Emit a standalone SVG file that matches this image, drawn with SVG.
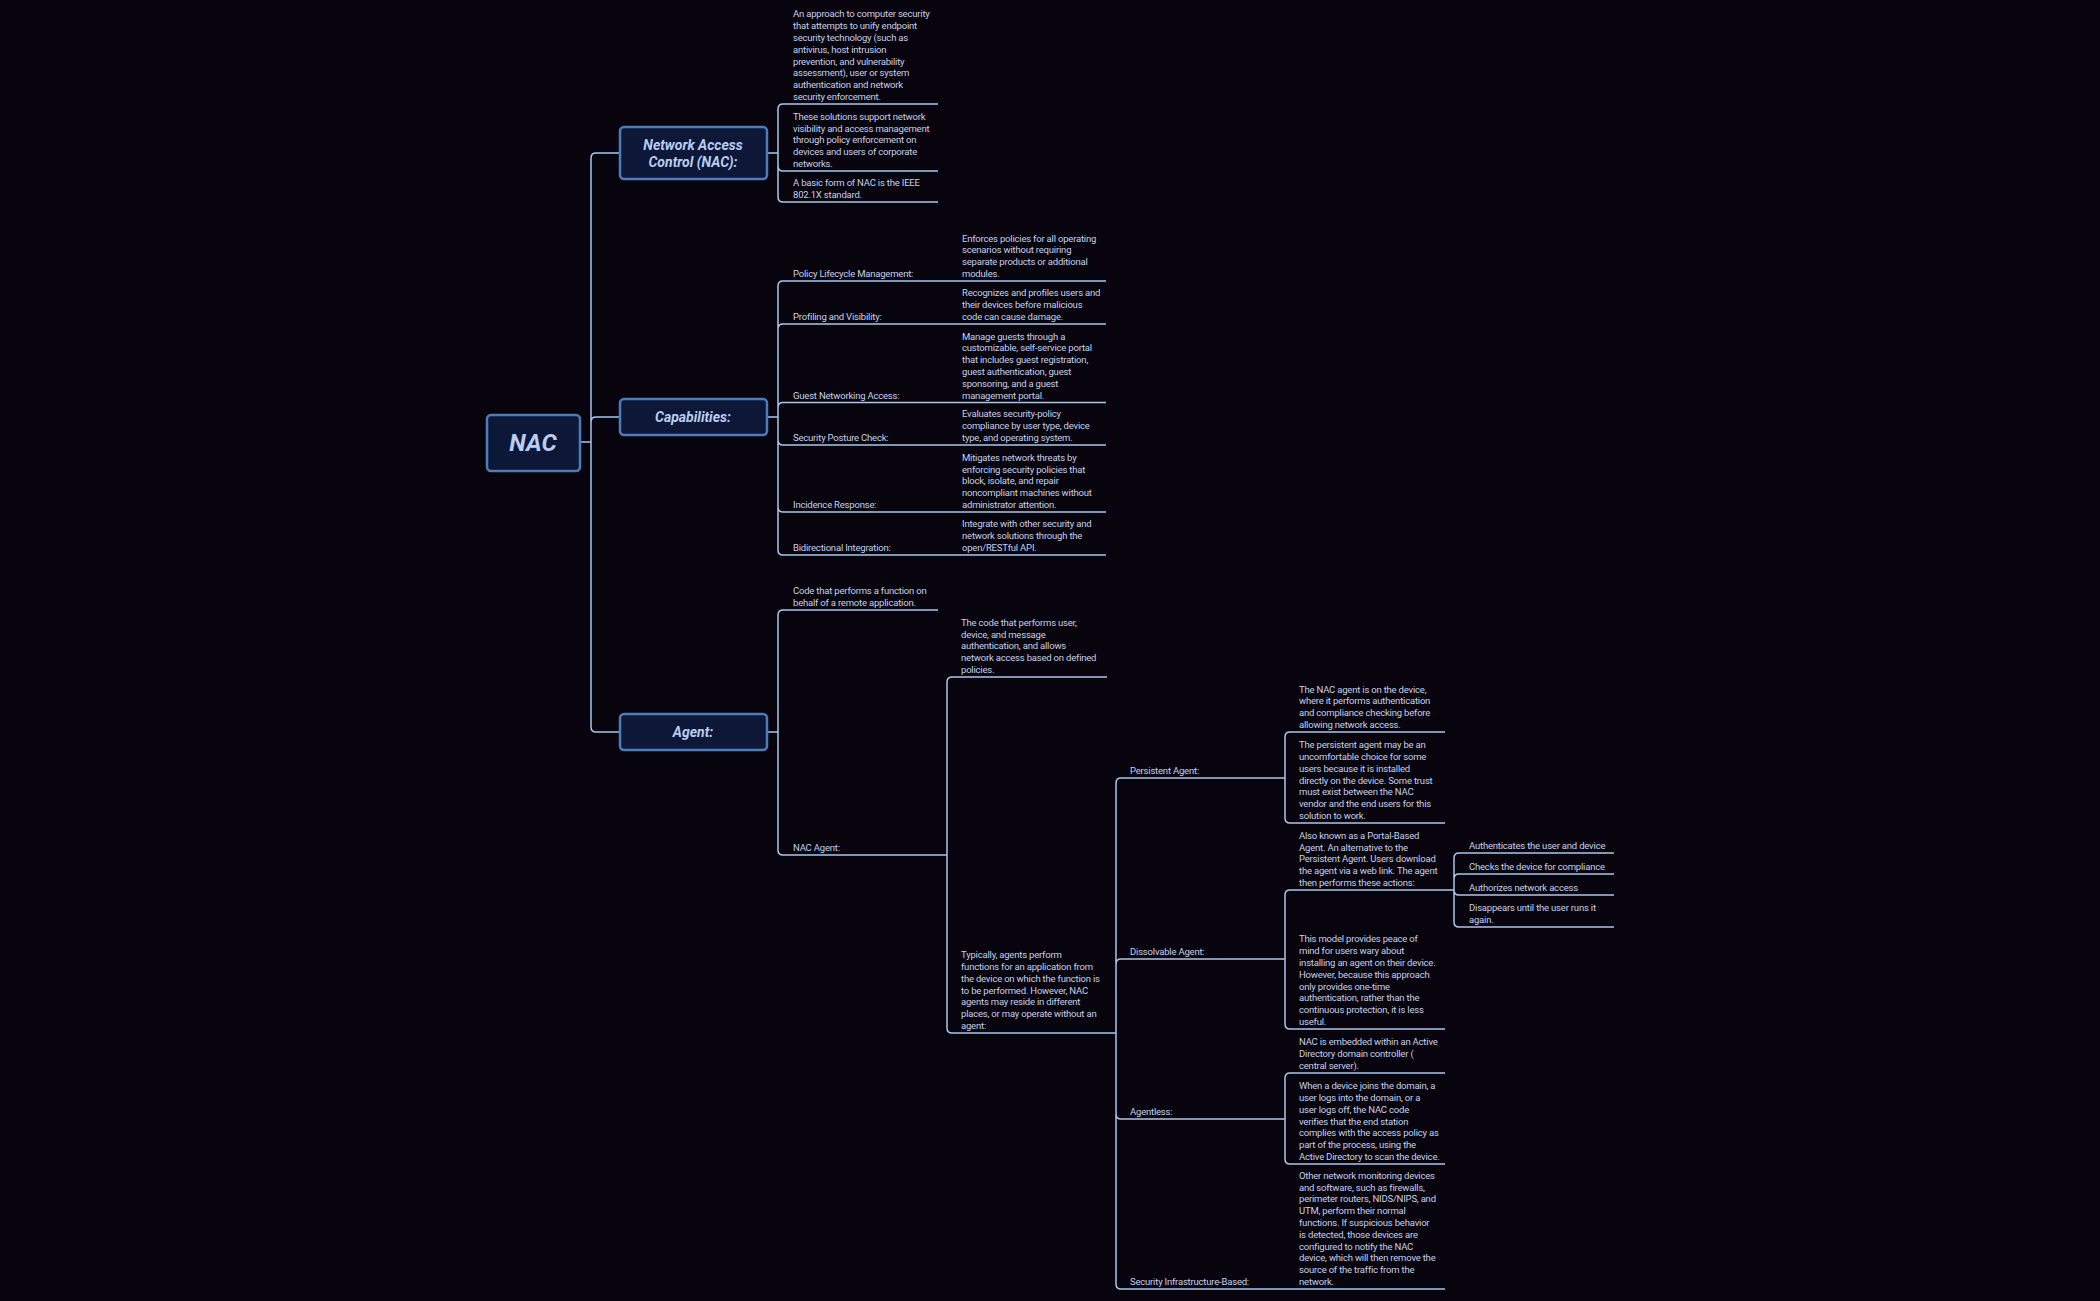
<svg xmlns="http://www.w3.org/2000/svg" width="2100" height="1301" viewBox="0 0 2100 1301">
<style>
.t{font-family:Roboto,"Liberation Sans",sans-serif;font-size:9.5px;letter-spacing:-0.2px;fill:#c6d2ec}
.b{fill:#0d1838;stroke:#4d7cb8;stroke-width:2.5}
.bt{font-family:Roboto,"Liberation Sans",sans-serif;font-weight:bold;font-style:italic;fill:#b9cdf0;text-anchor:middle}
#connectors path{fill:none;stroke:#a9c6ec;stroke-width:1.5}
</style>
<rect width="2100" height="1301" fill="#07040d"/>
<g id="connectors">
<path d="M580,442H591M591,442V158Q591,153 596,153H620M591,442V422Q591,417 596,417H620M591,442V727Q591,732 596,732H620"/>
<path d="M767,153H778M778,153V109Q778,104 783,104H938M778,153V166Q778,171 783,171H938M778,153V197Q778,202 783,202H938"/>
<path d="M767,417H778M778,417V286Q778,281 783,281H1106M778,417V329Q778,324 783,324H1106M778,417V407.5Q778,402.5 783,402.5H1106M778,417V440Q778,445 783,445H1106M778,417V507Q778,512 783,512H1106M778,417V550Q778,555 783,555H1106"/>
<path d="M767,732H778M778,732V615Q778,610 783,610H938M778,732V850Q778,855 783,855H947"/>
<path d="M947,855V682Q947,677 952,677H1107M947,855V1028Q947,1033 952,1033H1116"/>
<path d="M1116,1033V783Q1116,778 1121,778H1285M1116,1033V964Q1116,959 1121,959H1285M1116,1033V1114Q1116,1119 1121,1119H1285M1116,1033V1284Q1116,1289 1121,1289H1285"/>
<path d="M1285,778V737Q1285,732 1290,732H1445M1285,778V818Q1285,823 1290,823H1445"/>
<path d="M1285,959V895Q1285,890 1290,890H1445M1285,959V1024Q1285,1029 1290,1029H1445"/>
<path d="M1285,1119V1078Q1285,1073 1290,1073H1445M1285,1119V1159Q1285,1164 1290,1164H1445"/>
<path d="M1285,1289H1445"/>
<path d="M1445,890H1454M1454,890V858Q1454,853 1459,853H1614M1454,890V879Q1454,874 1459,874H1614M1454,890Q1454,895 1459,895H1614M1454,890V922Q1454,927 1459,927H1614"/>
</g>
<g id="root"><rect class="b" x="487" y="415" width="93" height="56" rx="4"/><text class="bt" x="533" y="451" font-size="24">NAC</text></g>
<g id="nac"><rect class="b" x="620" y="127" width="147" height="52" rx="4"/><text class="bt" x="693" y="150" font-size="14">Network Access</text><text class="bt" x="693" y="167" font-size="14">Control (NAC):</text></g>
<g id="cap"><rect class="b" x="620" y="399" width="147" height="36" rx="4"/><text class="bt" x="693" y="422" font-size="14">Capabilities:</text></g>
<g id="agent"><rect class="b" x="620" y="714" width="147" height="36" rx="4"/><text class="bt" x="693" y="737" font-size="14">Agent:</text></g>
<g id="nac-leaves" class="t">
<text class="t" x="793" y="17.4"><tspan x="793">An approach to computer security</tspan><tspan x="793" dy="11.8">that attempts to unify endpoint</tspan><tspan x="793" dy="11.8">security technology (such as</tspan><tspan x="793" dy="11.8">antivirus, host intrusion</tspan><tspan x="793" dy="11.8">prevention, and vulnerability</tspan><tspan x="793" dy="11.8">assessment), user or system</tspan><tspan x="793" dy="11.8">authentication and network</tspan><tspan x="793" dy="11.8">security enforcement.</tspan></text>
<text class="t" x="793" y="119.8"><tspan x="793">These solutions support network</tspan><tspan x="793" dy="11.8">visibility and access management</tspan><tspan x="793" dy="11.8">through policy enforcement on</tspan><tspan x="793" dy="11.8">devices and users of corporate</tspan><tspan x="793" dy="11.8">networks.</tspan></text>
<text class="t" x="793" y="186.2"><tspan x="793">A basic form of NAC is the IEEE</tspan><tspan x="793" dy="11.8">802.1X standard.</tspan></text>
</g>
<g id="cap-leaves">
<text class="t" x="793" y="277">Policy Lifecycle Management:</text>
<text class="t" x="793" y="320">Profiling and Visibility:</text>
<text class="t" x="793" y="398.5">Guest Networking Access:</text>
<text class="t" x="793" y="441">Security Posture Check:</text>
<text class="t" x="793" y="508">Incidence Response:</text>
<text class="t" x="793" y="551">Bidirectional Integration:</text>
<text class="t" y="241.6"><tspan x="962">Enforces policies for all operating</tspan><tspan x="962" dy="11.8">scenarios without requiring</tspan><tspan x="962" dy="11.8">separate products or additional</tspan><tspan x="962" dy="11.8">modules.</tspan></text>
<text class="t" y="296.4"><tspan x="962">Recognizes and profiles users and</tspan><tspan x="962" dy="11.8">their devices before malicious</tspan><tspan x="962" dy="11.8">code can cause damage.</tspan></text>
<text class="t" y="339.5"><tspan x="962">Manage guests through a</tspan><tspan x="962" dy="11.8">customizable, self-service portal</tspan><tspan x="962" dy="11.8">that includes guest registration,</tspan><tspan x="962" dy="11.8">guest authentication, guest</tspan><tspan x="962" dy="11.8">sponsoring, and a guest</tspan><tspan x="962" dy="11.8">management portal.</tspan></text>
<text class="t" y="417.4"><tspan x="962">Evaluates security-policy</tspan><tspan x="962" dy="11.8">compliance by user type, device</tspan><tspan x="962" dy="11.8">type, and operating system.</tspan></text>
<text class="t" y="460.8"><tspan x="962">Mitigates network threats by</tspan><tspan x="962" dy="11.8">enforcing security policies that</tspan><tspan x="962" dy="11.8">block, isolate, and repair</tspan><tspan x="962" dy="11.8">noncompliant machines without</tspan><tspan x="962" dy="11.8">administrator attention.</tspan></text>
<text class="t" y="527.4"><tspan x="962">Integrate with other security and</tspan><tspan x="962" dy="11.8">network solutions through the</tspan><tspan x="962" dy="11.8">open/RESTful API.</tspan></text>
</g>
<g id="agent-leaves">
<text class="t" y="594.2"><tspan x="793">Code that performs a function on</tspan><tspan x="793" dy="11.8">behalf of a remote application.</tspan></text>
<text class="t" x="793" y="851">NAC Agent:</text>
<text class="t" y="625.8"><tspan x="961">The code that performs user,</tspan><tspan x="961" dy="11.8">device, and message</tspan><tspan x="961" dy="11.8">authentication, and allows</tspan><tspan x="961" dy="11.8">network access based on defined</tspan><tspan x="961" dy="11.8">policies.</tspan></text>
<text class="t" y="958.2"><tspan x="961">Typically, agents perform</tspan><tspan x="961" dy="11.8">functions for an application from</tspan><tspan x="961" dy="11.8">the device on which the function is</tspan><tspan x="961" dy="11.8">to be performed. However, NAC</tspan><tspan x="961" dy="11.8">agents may reside in different</tspan><tspan x="961" dy="11.8">places, or may operate without an</tspan><tspan x="961" dy="11.8">agent:</tspan></text>
<text class="t" x="1130" y="774">Persistent Agent:</text>
<text class="t" x="1130" y="955">Dissolvable Agent:</text>
<text class="t" x="1130" y="1115">Agentless:</text>
<text class="t" x="1130" y="1285">Security Infrastructure-Based:</text>
<text class="t" y="692.6"><tspan x="1299">The NAC agent is on the device,</tspan><tspan x="1299" dy="11.8">where it performs authentication</tspan><tspan x="1299" dy="11.8">and compliance checking before</tspan><tspan x="1299" dy="11.8">allowing network access.</tspan></text>
<text class="t" y="748.2"><tspan x="1299">The persistent agent may be an</tspan><tspan x="1299" dy="11.8">uncomfortable choice for some</tspan><tspan x="1299" dy="11.8">users because it is installed</tspan><tspan x="1299" dy="11.8">directly on the device. Some trust</tspan><tspan x="1299" dy="11.8">must exist between the NAC</tspan><tspan x="1299" dy="11.8">vendor and the end users for this</tspan><tspan x="1299" dy="11.8">solution to work.</tspan></text>
<text class="t" y="838.8"><tspan x="1299">Also known as a Portal-Based</tspan><tspan x="1299" dy="11.8">Agent. An alternative to the</tspan><tspan x="1299" dy="11.8">Persistent Agent. Users download</tspan><tspan x="1299" dy="11.8">the agent via a web link. The agent</tspan><tspan x="1299" dy="11.8">then performs these actions:</tspan></text>
<text class="t" y="942.4"><tspan x="1299">This model provides peace of</tspan><tspan x="1299" dy="11.8">mind for users wary about</tspan><tspan x="1299" dy="11.8">installing an agent on their device.</tspan><tspan x="1299" dy="11.8">However, because this approach</tspan><tspan x="1299" dy="11.8">only provides one-time</tspan><tspan x="1299" dy="11.8">authentication, rather than the</tspan><tspan x="1299" dy="11.8">continuous protection, it is less</tspan><tspan x="1299" dy="11.8">useful.</tspan></text>
<text class="t" y="1045.4"><tspan x="1299">NAC is embedded within an Active</tspan><tspan x="1299" dy="11.8">Directory domain controller (</tspan><tspan x="1299" dy="11.8">central server).</tspan></text>
<text class="t" y="1089.2"><tspan x="1299">When a device joins the domain, a</tspan><tspan x="1299" dy="11.8">user logs into the domain, or a</tspan><tspan x="1299" dy="11.8">user logs off, the NAC code</tspan><tspan x="1299" dy="11.8">verifies that the end station</tspan><tspan x="1299" dy="11.8">complies with the access policy as</tspan><tspan x="1299" dy="11.8">part of the process, using the</tspan><tspan x="1299" dy="11.8">Active Directory to scan the device.</tspan></text>
<text class="t" y="1178.8"><tspan x="1299">Other network monitoring devices</tspan><tspan x="1299" dy="11.8">and software, such as firewalls,</tspan><tspan x="1299" dy="11.8">perimeter routers, NIDS/NIPS, and</tspan><tspan x="1299" dy="11.8">UTM, perform their normal</tspan><tspan x="1299" dy="11.8">functions. If suspicious behavior</tspan><tspan x="1299" dy="11.8">is detected, those devices are</tspan><tspan x="1299" dy="11.8">configured to notify the NAC</tspan><tspan x="1299" dy="11.8">device, which will then remove the</tspan><tspan x="1299" dy="11.8">source of the traffic from the</tspan><tspan x="1299" dy="11.8">network.</tspan></text>
<text class="t" x="1469" y="849">Authenticates the user and device</text>
<text class="t" x="1469" y="870">Checks the device for compliance</text>
<text class="t" x="1469" y="891">Authorizes network access</text>
<text class="t" y="911.2"><tspan x="1469">Disappears until the user runs it</tspan><tspan x="1469" dy="11.8">again.</tspan></text>
</g>
</svg>
